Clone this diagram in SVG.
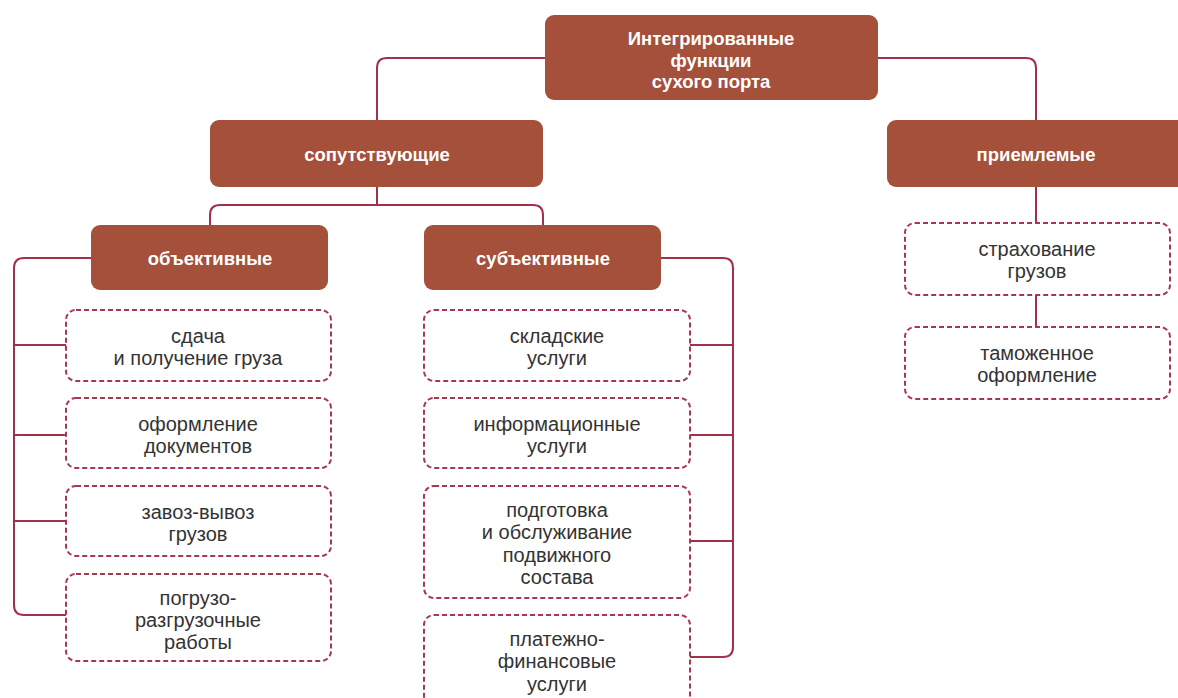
<svg xmlns="http://www.w3.org/2000/svg" width="1178" height="698" viewBox="0 0 1178 698">
<style>
.hdr{fill:#a4503a;}
.ht{fill:#ffffff;font-family:"Liberation Sans",Arial,sans-serif;font-weight:bold;font-size:18.5px;text-anchor:middle;}
.box{fill:#ffffff;stroke:#a8384f;stroke-width:2;stroke-dasharray:5 3;}
.bt{fill:#333333;font-family:"Liberation Sans",Arial,sans-serif;font-size:20px;text-anchor:middle;}
.con{fill:none;stroke:#a3304b;stroke-width:2;}
</style>
<rect width="1178" height="698" fill="#ffffff"/>
<g id="connectors">
<path class="con" d="M545,58 H387 Q377,58 377,68 V120"/>
<path class="con" d="M878,58 H1026 Q1036,58 1036,68 V120"/>
<path class="con" d="M377,187 V205"/>
<path class="con" d="M210,225 V215 Q210,205 220,205 H533 Q543,205 543,215 V225"/>
<path class="con" d="M91,258 H24 Q14,258 14,268 V605 Q14,615 24,615 H66"/>
<path class="con" d="M14,345 H66 M14,435 H66 M14,521 H66"/>
<path class="con" d="M661,258 H723 Q733,258 733,268 V647 Q733,657 723,657 H690"/>
<path class="con" d="M690,345 H733 M690,435 H733 M690,541 H733"/>
<path class="con" d="M1036,187 V223 M1036,295 V327"/>
</g>
<g id="n-root"><rect class="hdr" x="545" y="15" width="333" height="85" rx="9"/>
<text class="ht" x="711" y="45">Интегрированные</text><text class="ht" x="711" y="67">функции</text><text class="ht" x="711" y="88">сухого порта</text></g>
<g id="n-soput"><rect class="hdr" x="210" y="120" width="333" height="67" rx="9"/><text class="ht" x="377" y="161">сопутствующие</text></g>
<g id="n-priem"><rect class="hdr" x="887" y="120" width="300" height="67" rx="9"/><text class="ht" x="1036" y="161">приемлемые</text></g>
<g id="n-obj"><rect class="hdr" x="91" y="225" width="237" height="65" rx="9"/><text class="ht" x="210" y="265">объективные</text></g>
<g id="n-subj"><rect class="hdr" x="424" y="225" width="237" height="65" rx="9"/><text class="ht" x="543" y="265">субъективные</text></g>
<g id="n-sdacha"><rect class="box" x="66" y="310" width="265" height="71" rx="10"/><text class="bt" x="198" y="343">сдача</text><text class="bt" x="198" y="365">и получение груза</text></g>
<g id="n-oform"><rect class="box" x="66" y="398" width="265" height="70" rx="10"/><text class="bt" x="198" y="431">оформление</text><text class="bt" x="198" y="453">документов</text></g>
<g id="n-zavoz"><rect class="box" x="66" y="486" width="265" height="70" rx="10"/><text class="bt" x="198" y="519">завоз-вывоз</text><text class="bt" x="198" y="541">грузов</text></g>
<g id="n-pogruz"><rect class="box" x="66" y="574" width="265" height="87" rx="10"/><text class="bt" x="198" y="605">погрузо-</text><text class="bt" x="198" y="627">разгрузочные</text><text class="bt" x="198" y="649">работы</text></g>
<g id="n-sklad"><rect class="box" x="424" y="310" width="266" height="71" rx="10"/><text class="bt" x="557" y="343">складские</text><text class="bt" x="557" y="365">услуги</text></g>
<g id="n-inform"><rect class="box" x="424" y="398" width="266" height="70" rx="10"/><text class="bt" x="557" y="431">информационные</text><text class="bt" x="557" y="453">услуги</text></g>
<g id="n-podgot"><rect class="box" x="424" y="486" width="266" height="112" rx="10"/><text class="bt" x="557" y="517">подготовка</text><text class="bt" x="557" y="539">и обслуживание</text><text class="bt" x="557" y="562">подвижного</text><text class="bt" x="557" y="584">состава</text></g>
<g id="n-plat"><rect class="box" x="424" y="615" width="266" height="95" rx="10"/><text class="bt" x="557" y="646">платежно-</text><text class="bt" x="557" y="668">финансовые</text><text class="bt" x="557" y="691">услуги</text></g>
<g id="n-strah"><rect class="box" x="905" y="223" width="265" height="72" rx="10"/><text class="bt" x="1037" y="256">страхование</text><text class="bt" x="1037" y="278">грузов</text></g>
<g id="n-tamozh"><rect class="box" x="905" y="327" width="265" height="72" rx="10"/><text class="bt" x="1037" y="360">таможенное</text><text class="bt" x="1037" y="382">оформление</text></g>
</svg>
